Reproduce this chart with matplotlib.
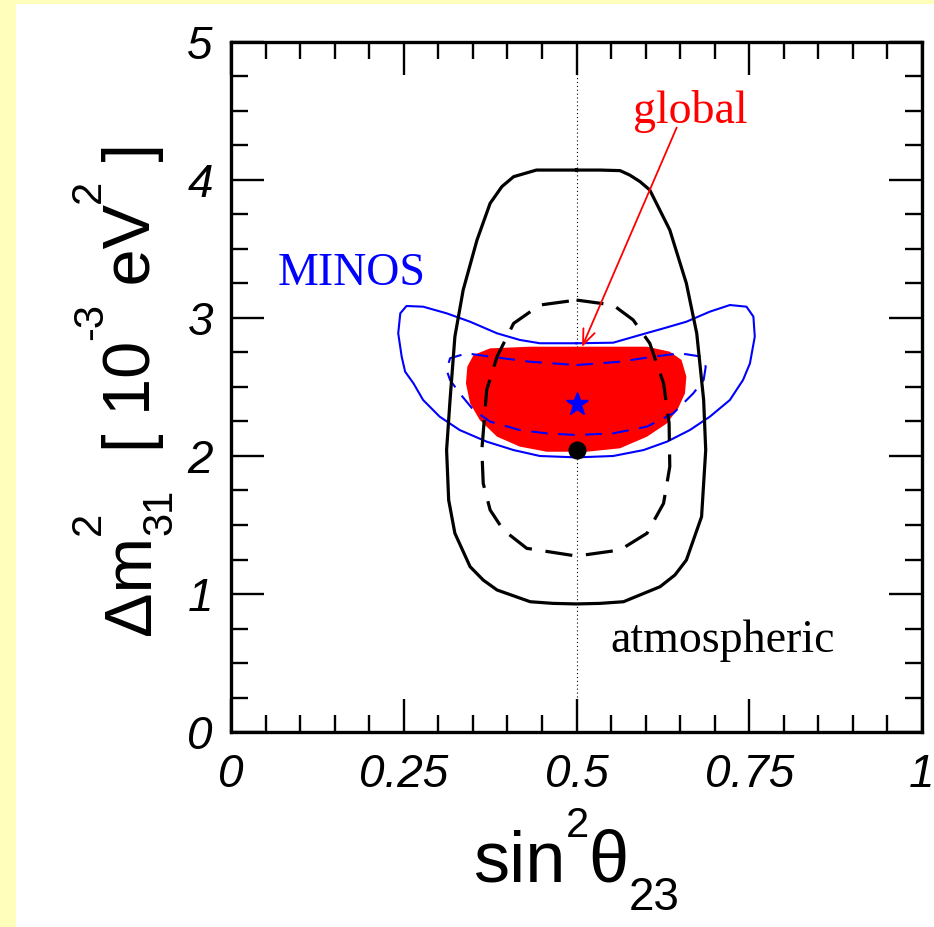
import matplotlib
matplotlib.use("Agg")
import matplotlib.pyplot as plt
from matplotlib.patches import Rectangle
from matplotlib.transforms import IdentityTransform

# atmospheric, solid (outer) contour
atm_sol_x = [0.500, 0.534, 0.563, 0.577, 0.592, 0.606, 0.635, 0.659, 0.674, 0.684, 0.687, 0.681, 0.659, 0.6425, 0.621,
             0.568, 0.534, 0.500, 0.466, 0.433, 0.385, 0.365, 0.346, 0.324, 0.315, 0.312, 0.317, 0.324, 0.336, 0.356,
             0.375, 0.392, 0.409, 0.442, 0.500]
atm_sol_y = [4.072, 4.072, 4.068, 4.036, 3.988, 3.928, 3.638, 3.251, 2.889, 2.406, 2.043, 1.560, 1.246, 1.138, 1.053,
             0.944, 0.932, 0.928, 0.932, 0.944, 1.029, 1.101, 1.198, 1.440, 1.681, 2.043, 2.406, 2.865, 3.203, 3.565,
             3.831, 3.952, 4.024, 4.072, 4.072]

# atmospheric, dashed contour
atm_dash_x = [0.500, 0.553, 0.582, 0.606, 0.626, 0.634, 0.635, 0.626, 0.602, 0.563, 0.500, 0.428, 0.394, 0.375,
              0.365, 0.363, 0.370, 0.385, 0.409, 0.447, 0.500]
atm_dash_y = [3.130, 3.094, 2.986, 2.817, 2.527, 2.237, 1.923, 1.657, 1.440, 1.319, 1.275, 1.331, 1.464, 1.609,
              1.802, 2.043, 2.478, 2.720, 2.961, 3.094, 3.130]

# MINOS, solid contour
minos_sol_x = [0.500, 0.553, 0.592, 0.626, 0.659, 0.693, 0.722, 0.746, 0.756, 0.758, 0.751, 0.741, 0.722, 0.693,
               0.664, 0.631, 0.597, 0.553, 0.500, 0.447, 0.409, 0.370, 0.331, 0.302, 0.278, 0.264, 0.252, 0.247,
               0.242, 0.245, 0.254, 0.278, 0.312, 0.346, 0.385, 0.418, 0.447, 0.500]
minos_sol_y = [2.817, 2.821, 2.877, 2.925, 2.973, 3.046, 3.094, 3.082, 3.010, 2.865, 2.671, 2.551, 2.406, 2.285,
               2.188, 2.104, 2.043, 2.000, 1.990, 2.000, 2.043, 2.104, 2.188, 2.285, 2.406, 2.527, 2.611, 2.720,
               2.889, 3.034, 3.087, 3.082, 3.034, 2.973, 2.889, 2.841, 2.817, 2.817]

# MINOS, dashed contour
minos_dash_x = [0.500, 0.563, 0.611, 0.650, 0.681, 0.687, 0.684, 0.669, 0.640, 0.602, 0.553, 0.500, 0.457, 0.418,
                0.375, 0.351, 0.331, 0.317, 0.312, 0.317, 0.341, 0.375, 0.433, 0.500]
minos_dash_y = [2.659, 2.683, 2.720, 2.744, 2.720, 2.647, 2.551, 2.454, 2.309, 2.213, 2.164, 2.152, 2.164, 2.188,
                2.249, 2.333, 2.454, 2.551, 2.623, 2.708, 2.744, 2.720, 2.683, 2.659]

# global fit region (filled)
glob_x = [0.500, 0.553, 0.602, 0.635, 0.652, 0.659, 0.657, 0.647, 0.631, 0.602, 0.563, 0.515, 0.457, 0.418, 0.385,
          0.360, 0.346, 0.340, 0.342, 0.351, 0.375, 0.433]
glob_y = [2.792, 2.792, 2.792, 2.756, 2.696, 2.575, 2.454, 2.345, 2.237, 2.140, 2.056, 2.031, 2.031, 2.068, 2.140,
          2.261, 2.382, 2.527, 2.647, 2.732, 2.780, 2.792]

best_minos = (0.5, 2.38)
best_atm = (0.5, 2.04)

xticks = [0, 0.25, 0.5, 0.75, 1]
xticklabels = ['0', '0.25', '0.5', '0.75', '1']
yticks = [0, 1, 2, 3, 4, 5]

# axis titles in pieces (text, fontsize, baseline shift in px, advance)
xtitle = [('sin', 52, 0, True), ('2', 30, 45, True), ('θ', 52, 0, True), ('23', 33, -28, True)]
ytitle = [('Δm', 48, 0, True), ('2', 30, 50, False), ('31', 30, -21, True), ('  [ 10', 48, 0, True),
          ('-3', 30, 48, True), (' eV', 48, 0, True), ('2', 30, 50, True), (' ]', 48, 0, True)]

fig = plt.figure(figsize=(9.34, 9.27), dpi=100, facecolor='#ffffbb')
fig.patches.append(Rectangle((16 / 934, 0), 1, 923 / 927, transform=fig.transFigure,
                             facecolor='white', edgecolor='none', zorder=-10))
ax = fig.add_axes([231 / 934, 195 / 927, 691 / 934, 690 / 927])

ax.fill(glob_x, glob_y, color='#ff0000', lw=0, zorder=2)
ax.plot(minos_sol_x, minos_sol_y, color='#0000ff', lw=1.5, zorder=3)
ax.plot(minos_dash_x, minos_dash_y, color='#0000ff', lw=1.5, dashes=(8, 5), zorder=3)
ax.plot(atm_sol_x, atm_sol_y, color='black', lw=2.3, zorder=3)
ax.plot(atm_dash_x, atm_dash_y, color='black', lw=2.3, dashes=(8.5, 4.3), zorder=3)
ax.axvline(0.5, color='black', lw=0.8, ls=(0, (1, 2.5)), zorder=1)
ax.plot(*best_minos, marker='*', color='#0000ff', ms=17, zorder=5)
ax.plot(*best_atm, marker='o', color='black', ms=12, zorder=5)

serif = 'Liberation Serif'
ax.text(0.664, 4.41, 'global', color='red', fontsize=33, family=serif, ha='center', va='baseline')
ax.text(0.174, 3.24, 'MINOS', color='#0000ff', fontsize=33, family=serif, ha='center', va='baseline')
ax.text(0.712, 0.58, 'atmospheric', color='black', fontsize=33, family=serif, ha='center', va='baseline')
ax.annotate('', xy=(0.508, 2.79), xytext=(0.645, 4.38),
            arrowprops=dict(arrowstyle='->,head_length=0.5,head_width=0.2', color='red', lw=1.3,
                            mutation_scale=22, shrinkA=0, shrinkB=0), zorder=6)

ax.set_xlim(0, 1)
ax.set_ylim(0, 5)
ax.set_xticks(xticks)
ax.set_xticklabels(xticklabels)
ax.set_yticks(yticks)
ax.set_xticks([i * 0.05 for i in range(21)], minor=True)
ax.set_yticks([i * 0.25 for i in range(21)], minor=True)
ax.tick_params(which='both', direction='in', top=True, right=True, width=1.7, color='black')
ax.tick_params(which='major', length=24)
ax.tick_params(which='minor', length=12)
ax.tick_params(axis='x', which='major', pad=15)
ax.tick_params(axis='y', which='major', pad=13)
for lab in ax.get_xticklabels() + ax.get_yticklabels():
    lab.set_family('Liberation Sans')
    lab.set_style('italic')
    lab.set_fontsize(33)
for sp in ax.spines.values():
    sp.set_linewidth(2.4)


def draw_title(pieces, x0, y0, rot):
    # lay the pieces one after another, in display pixels (origin bottom-left)
    r = fig.canvas.get_renderer()
    pos = 0
    for s, size, shift, adv in pieces:
        if rot == 0:
            t = fig.text(x0 + pos, y0 + shift, s, fontsize=size, family='Liberation Sans',
                         ha='left', va='baseline', transform=IdentityTransform())
            w = t.get_window_extent(r).width
        else:
            t = fig.text(x0 - shift, y0 + pos, s, fontsize=size, family='Liberation Sans', rotation=90,
                         rotation_mode='anchor', ha='left', va='baseline', transform=IdentityTransform())
            w = t.get_window_extent(r).height
        if adv:
            pos += w


fig.canvas.draw()
draw_title(xtitle, 473, 927 - 882, 0)
draw_title(ytitle, 150, 927 - 635, 90)

fig.savefig('out.png', dpi=100, facecolor=fig.get_facecolor())
